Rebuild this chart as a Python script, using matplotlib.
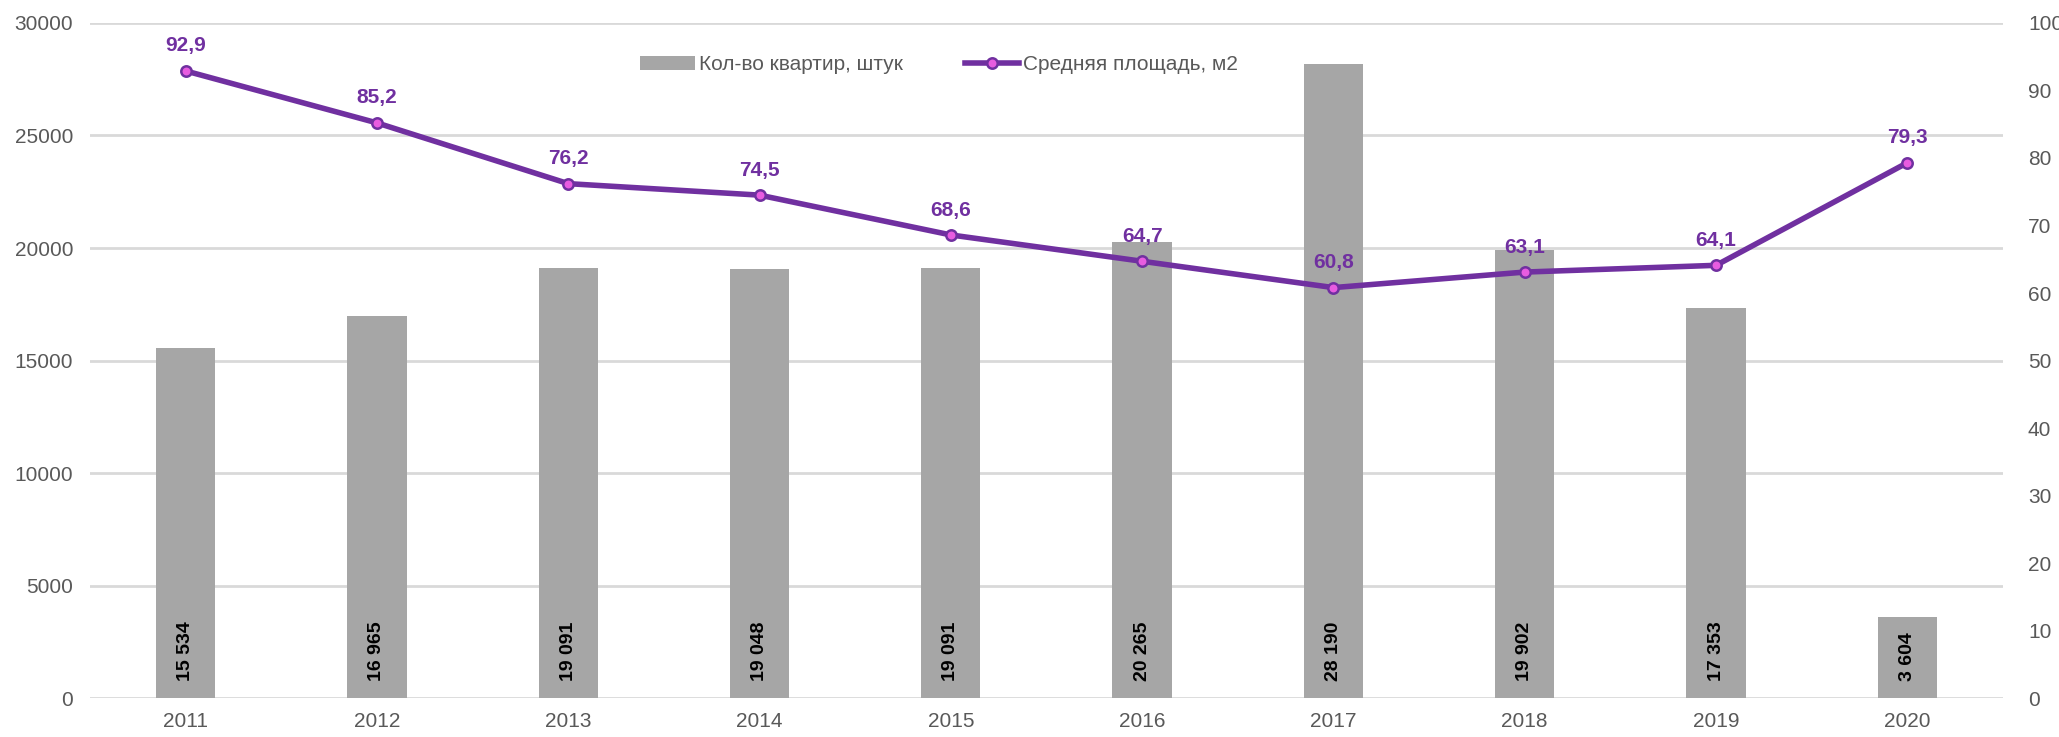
import numpy as np
import matplotlib.pyplot as plt

plt.rcParams['font.family'] = ['Liberation Sans', 'DejaVu Sans']

years = ['2011', '2012', '2013', '2014', '2015', '2016', '2017', '2018', '2019', '2020']
flats = [15534, 16965, 19091, 19048, 19091, 20265, 28190, 19902, 17353, 3604]
avg_area = [92.9, 85.2, 76.2, 74.5, 68.6, 64.7, 60.8, 63.1, 64.1, 79.3]

gray_txt = '#595959'
purple = '#7030a0'

fig = plt.figure(figsize=(20.59, 7.37), dpi=100)
ax = fig.add_axes([0.0437, 0.0529, 0.9291, 0.9159])
ax2 = ax.twinx()

x = np.arange(len(years))
bars = ax.bar(x, flats, width=0.31, color='#a6a6a6', zorder=2, label='Кол-во квартир, штук')
ax.set_ylim(0, 30000)
ax.set_xlim(-0.5, len(years) - 0.5)
ax.set_yticks(range(0, 30001, 5000))
ax.yaxis.grid(True, color='#d9d9d9', linewidth=2, zorder=0)
ax.set_axisbelow(True)
ax.set_xticks(x)
ax.set_xticklabels(years)

# подписи столбцов
for xi, v in zip(x, flats):
    s = f'{v:,}'.replace(',', ' ')
    ax.annotate(s, (xi, 0), xytext=(0, 12), textcoords='offset points',
                ha='center', va='bottom', rotation=90, fontsize=14,
                fontweight='bold', color='black', zorder=5)

line, = ax2.plot(x, avg_area, color=purple, linewidth=4, marker='o',
                 markersize=7.5, markerfacecolor='#e85ce0', markeredgecolor=purple,
                 markeredgewidth=1.8, label='Средняя площадь, м2', zorder=4)
ax2.set_ylim(0, 100)
ax2.set_yticks(range(0, 101, 10))
for xi, v in zip(x, avg_area):
    ax2.annotate(f'{v:.1f}'.replace('.', ','), (xi, v), xytext=(0, 14),
                 textcoords='offset points', ha='center', va='baseline',
                 fontsize=15, fontweight='bold', color=purple)

for a in (ax, ax2):
    for sp in a.spines.values():
        sp.set_visible(False)
    a.tick_params(length=0, labelsize=15, labelcolor=gray_txt, pad=10)
ax.tick_params(axis='y', pad=12)
ax2.tick_params(axis='y', pad=18)

leg = ax.legend([bars, line], ['Кол-во квартир, штук', 'Средняя площадь, м2'],
                loc='center', bbox_to_anchor=(0.444, 0.938), ncol=2, frameon=False,
                fontsize=15, handlelength=2.6, columnspacing=3, handletextpad=0.2)
for t in leg.get_texts():
    t.set_color(gray_txt)

fig.savefig('out.png', dpi=100)
